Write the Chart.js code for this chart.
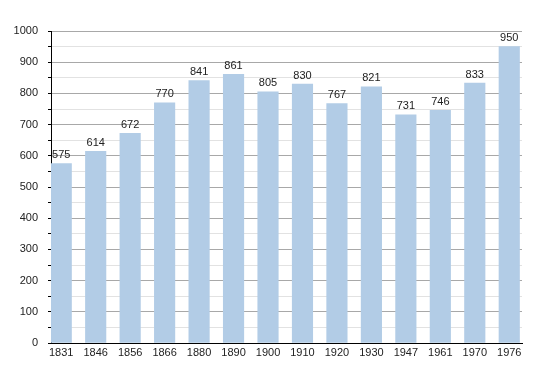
<!DOCTYPE html>
<html lang="en">
<head>
    <meta charset="UTF-8">
    <title>Population</title>
    <script src="https://cdn.jsdelivr.net/npm/chart.js"></script>
    <style>
        html, body { margin: 0; padding: 0; background: #fff; }
        #wrap { width: 550px; height: 373px; }
    </style>
</head>
<body>
    <div id="wrap"><canvas id="chart" width="550" height="373"></canvas></div>
    <script>
        const years = ['1831', '1846', '1856', '1866', '1880', '1890', '1900', '1910', '1920', '1930', '1947', '1961', '1970', '1976'];
        const population = [575, 614, 672, 770, 841, 861, 805, 830, 767, 821, 731, 746, 833, 950];
        const yTicks = [0, 100, 200, 300, 400, 500, 600, 700, 800, 900, 1000];

        const font = { family: '"Liberation Sans", Arial, sans-serif', size: 11 };

        // value labels above each bar
        const barLabels = {
            id: 'barLabels',
            afterDatasetsDraw(chart) {
                const ctx = chart.ctx;
                const meta = chart.getDatasetMeta(0);
                ctx.save();
                ctx.font = '11px "Liberation Sans", Arial, sans-serif';
                ctx.fillStyle = '#222';
                ctx.textAlign = 'center';
                ctx.textBaseline = 'bottom';
                meta.data.forEach((bar, i) => {
                    ctx.fillText(population[i], bar.x, bar.y - 3);
                });
                ctx.restore();
            }
        };

        new Chart(document.getElementById('chart'), {
            type: 'bar',
            data: {
                datasets: [{
                    data: population.map((v, i) => ({ x: i, y: v })),
                    backgroundColor: '#b2cce6',
                    barThickness: 20.5
                }]
            },
            options: {
                responsive: false,
                animation: false,
                layout: { padding: { top: 31, right: 28, bottom: 0, left: 0 } },
                plugins: { legend: { display: false }, tooltip: { enabled: false } },
                scales: {
                    x: {
                        type: 'linear',
                        offset: false,
                        min: -0.297,
                        max: 13.37,
                        grid: { display: false, drawTicks: false, offset: false },
                        border: { display: true, color: '#000', width: 1 },
                        ticks: {
                            stepSize: 1,
                            includeBounds: false,
                            autoSkip: false,
                            maxRotation: 0,
                            padding: 3,
                            color: '#222',
                            font: font,
                            callback: v => Number.isInteger(v) ? years[v] : ''
                        },
                        afterFit: s => { s.height = 30; }
                    },
                    y: {
                        min: 0,
                        max: 1000,
                        grid: {
                            color: c => c.tick && c.tick.value % 100 === 0 ? '#a8a8a8' : '#e2e2e2',
                            tickColor: '#000',
                            tickLength: 3
                        },
                        border: { display: true, color: '#000', width: 1 },
                        ticks: {
                            stepSize: 50,
                            autoSkip: false,
                            padding: 10,
                            color: '#222',
                            font: font,
                            callback: v => yTicks.includes(v) ? v : ''
                        },
                        afterFit: s => { s.width = 51; }
                    }
                }
            },
            plugins: [barLabels]
        });
    </script>
</body>
</html>
